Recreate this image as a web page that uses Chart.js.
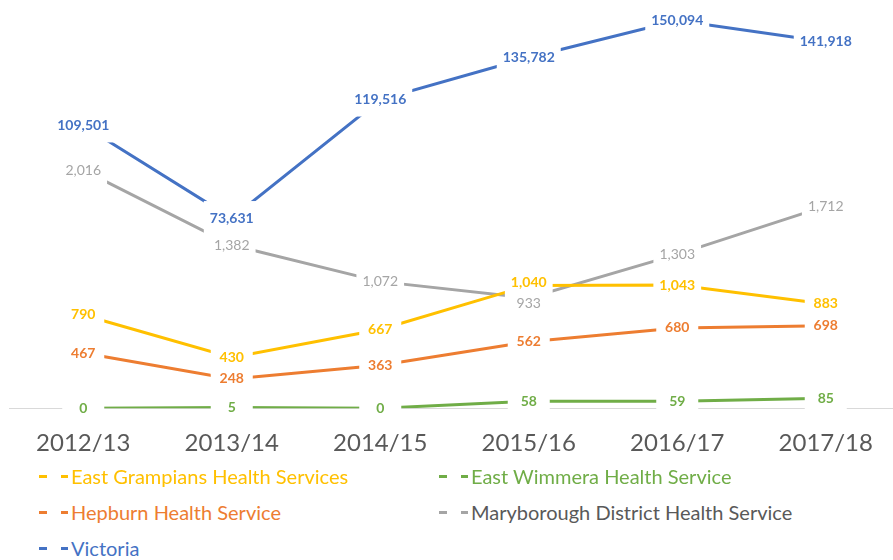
<!DOCTYPE html>
<html><head><meta charset="utf-8">
<script src="https://cdn.jsdelivr.net/npm/chart.js@4.4.1/dist/chart.umd.min.js"></script>
<style>
html,body{margin:0;padding:0;background:#fff;}
#wrap{position:relative;width:893px;height:560px;overflow:hidden;background:#fff;}
#c{position:absolute;left:0;top:-5px;}
.lg{position:absolute;font-family:Lato, sans-serif;font-size:20px;line-height:22px;white-space:nowrap;}
.sym{position:absolute;height:3px;}
</style></head><body>
<div id="wrap"><canvas id="c" width="905" height="484"></canvas><div id="legend"></div></div>
<script>
const categories = ['2012/13','2013/14','2014/15','2015/16','2016/17','2017/18'];
const eastGrampians = [790, 430, 667, 1040, 1043, 883];
const eastWimmera = [0, 5, 0, 58, 59, 85];
const hepburn = [467, 248, 363, 562, 680, 698];
const maryborough = [2016, 1382, 1072, 933, 1303, 1712];
const victoria = [109501, 73631, 119516, 135782, 150094, 141918];
const seriesNames = ['East Grampians Health Services','East Wimmera Health Service','Hepburn Health Service','Maryborough District Health Service','Victoria'];
const seriesColors = ['#FFC000','#70AD47','#ED7D31','#A5A5A5','#4472C4'];
const legendTextColors = ['#FFC000','#70AD47','#ED7D31','#595959','#4472C4'];
const labelWeights = ['bold','bold','bold','normal','bold'];
const seriesValues = [eastGrampians, eastWimmera, hepburn, maryborough, victoria];
const seriesAxes = ['y','y','y','y','y2'];
const labelNudges = [{3:-3},{},{},{3:5},{}];

Chart.defaults.font.family = 'Lato, sans-serif';

const datasets = seriesValues.map((vals, i) => ({
  label: seriesNames[i],
  data: vals,
  borderColor: seriesColors[i],
  backgroundColor: seriesColors[i],
  borderWidth: 3,
  pointRadius: 0,
  tension: 0,
  yAxisID: seriesAxes[i],
  labelWeight: labelWeights[i],
  labelNudge: labelNudges[i]
}));

const labelPlugin = {
  id: 'boxLabels',
  afterDatasetsDraw(chart) {
    const ctx = chart.ctx;
    const items = [];
    chart.data.datasets.forEach((ds, di) => {
      const meta = chart.getDatasetMeta(di);
      const font = ds.labelWeight + ' 14px Lato, sans-serif';
      ctx.font = font;
      meta.data.forEach((pt, i) => {
        const txt = ds.data[i].toLocaleString('en-US');
        const tw = ctx.measureText(txt).width;
        const dy = ds.labelNudge[i] || 0;
        items.push({x: pt.x, y: pt.y + dy, txt, tw, font, color: ds.borderColor});
      });
    });
    ctx.save();
    ctx.fillStyle = '#ffffff';
    items.forEach(it => {
      const hw = Math.max(21, it.tw / 2 + 6);
      ctx.fillRect(it.x - hw, it.y - 17, hw * 2, 34);
    });
    ctx.textAlign = 'center';
    ctx.textBaseline = 'middle';
    items.forEach(it => {
      ctx.font = it.font;
      ctx.fillStyle = it.color;
      ctx.fillText(it.txt, it.x, it.y);
    });
    ctx.restore();
  }
};

new Chart(document.getElementById('c'), {
  type: 'line',
  data: { labels: categories, datasets },
  options: {
    responsive: false,
    animation: false,
    events: [],
    layout: { padding: { left: 9, right: 5, top: 0, bottom: 0 } },
    plugins: { legend: { display: false }, tooltip: { enabled: false } },
    scales: {
      x: {
        offset: true,
        grid: { display: false, drawTicks: false },
        border: { display: true, color: '#D9D9D9', width: 1 },
        ticks: { color: '#595959', font: { size: 24 }, padding: 21, maxRotation: 0, autoSkip: false }
      },
      y: { display: false, min: 0, max: 3500 },
      y2: { display: false, min: 0, max: 160000 }
    }
  },
  plugins: [labelPlugin]
});

// legend
const legend = document.getElementById('legend');
const colX = [39, 439];
const rowY = [476, 512, 548];
seriesNames.forEach((name, i) => {
  const cx = colX[i % 2], cy = rowY[Math.floor(i / 2)];
  const s1 = document.createElement('div');
  s1.className = 'sym';
  s1.style.cssText = `left:${cx}px;top:${cy - 1.5}px;width:8px;background:${seriesColors[i]}`;
  const s2 = document.createElement('div');
  s2.className = 'sym';
  s2.style.cssText = `left:${cx + 22}px;top:${cy - 1.5}px;width:7px;background:${seriesColors[i]}`;
  const t = document.createElement('div');
  t.className = 'lg';
  t.textContent = name;
  t.style.cssText = `left:${cx + 32}px;top:${cy - 11}px;color:${legendTextColors[i]}`;
  legend.append(s1, s2, t);
});
</script>
</body></html>
